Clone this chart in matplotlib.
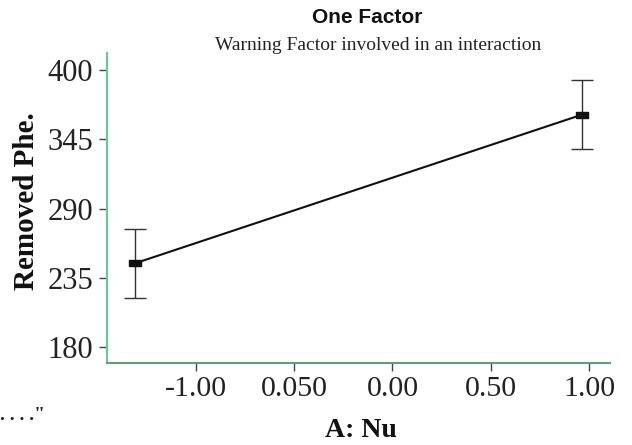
import matplotlib
matplotlib.use("Agg")
import matplotlib.pyplot as plt

# data
x_levels = [-1.31, 0.964]
y_means = [246.5, 364.5]
y_err = [27.3, 27.3]
x_ticks = [-1.0, -0.5, 0.0, 0.5, 1.0]
x_tick_labels = ["-1.00", "0.050", "0.00", "0.50", "1.00"]
y_ticks = [180, 235, 290, 345, 400]
y_tick_labels = ["180", "235", "290", "345", "400"]

serif = ["Liberation Serif", "DejaVu Serif"]
sans = ["Liberation Sans", "DejaVu Sans"]

fig = plt.figure(figsize=(6.32, 4.45), dpi=100)
ax = fig.add_axes([107/632, 1-363/445, (610-107)/632, (363-53)/445])

rect = [(-1, -0.6), (1, -0.6), (1, 0.6), (-1, 0.6), (-1, -0.6)]
ax.plot(x_levels, y_means, color="#111111", lw=1.5, zorder=3)
ax.errorbar(x_levels, y_means, yerr=y_err, fmt="none", ecolor="#333333",
            elinewidth=1.0, capsize=8, capthick=1.0, zorder=2)
ax.plot(x_levels, y_means, linestyle="none", marker=rect, markersize=8,
        color="#111111", zorder=4)

ax.set_xlim(-1.453, 1.107)
ax.set_ylim(167.3, 413.5)
ax.set_xticks(x_ticks)
ax.set_xticklabels(x_tick_labels, fontfamily=serif, fontsize=21.5, color="#222222")
ax.set_yticks(y_ticks)
ax.set_yticklabels(y_tick_labels, fontfamily=serif, fontsize=22, color="#222222")
ax.tick_params(axis="both", direction="out", length=6, width=1.0, color="#444444")
ax.tick_params(axis="x", pad=3)
ax.tick_params(axis="y", pad=4)

for s in ["top", "right"]:
    ax.spines[s].set_visible(False)
ax.spines["left"].set_color("#5DCB9A")
ax.spines["left"].set_linewidth(1.5)
ax.spines["bottom"].set_color("#5E9E78")
ax.spines["bottom"].set_linewidth(1.5)

ax.set_ylabel("Removed Phe.", fontfamily=serif, fontsize=21, fontweight="bold", color="#111111")
ax.yaxis.set_label_coords((40.5-107)/503, (363-201)/310)
ax.set_xlabel("A: Nu", fontfamily=serif, fontsize=20, fontweight="bold", color="#111111")
ax.xaxis.set_label_coords((361-107)/503, (363-418)/310)

fig.text(367/632, 1-17.5/445, "One Factor", ha="center", va="center",
         fontfamily=sans, fontsize=15, fontweight="bold", color="#111111")
fig.text(378.5/632, 1-45/445, "Warning Factor involved in an interaction", ha="center",
         va="center", fontfamily=serif, fontsize=14, color="#222222")
fig.text(0/632, 1-416/445, ". . . .\"", ha="left", va="center",
         fontfamily=serif, fontsize=14, fontweight="bold", color="#222222")

fig.savefig("out.png", dpi=100)
